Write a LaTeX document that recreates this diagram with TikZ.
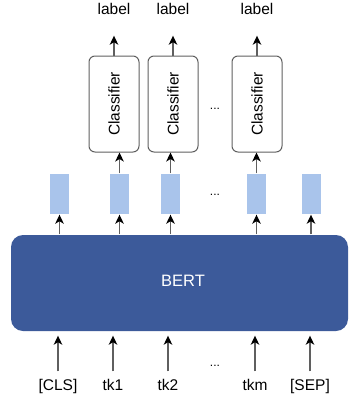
\documentclass[tikz,border=0pt]{standalone}
\usepackage{fontspec}
\setmainfont{Liberation Sans}
\usepackage{graphicx}
\usetikzlibrary{arrows.meta,positioning}
\definecolor{ln}{RGB}{95,95,95}
\definecolor{frm}{RGB}{95,95,95}
\definecolor{bert}{RGB}{60,90,154}
\definecolor{emb}{RGB}{169,196,235}
\tikzset{
  every picture/.style={line width=1.4pt,
    >={Stealth[length=9pt,width=8.5pt,inset=2.5pt,color=black]}},
  every node/.style={font=\fontsize{15.5}{18}\selectfont},
  % Verbindungen
  flow/.style={ln, ->},
  % Kästen
  embbox/.style={fill=emb, minimum width=19pt, minimum height=40pt, inner sep=0pt},
  clsbox/.style={draw=frm, line width=1pt, rounded corners=6pt,
    minimum width=50pt, minimum height=96pt, inner sep=0pt},
  bertbox/.style={fill=bert, rounded corners=12pt, minimum width=337pt,
    minimum height=96pt},
  % Beschriftung
  tok/.style={inner sep=0pt, anchor=base, text height=11pt, text depth=3pt},
  dots/.style={font=\fontsize{12}{14}\selectfont},
}
\begin{document}
\begin{tikzpicture}[x=1pt,y=-1pt]
  \useasboundingbox (0,0) rectangle (349,405);
  % BERT
  \node[bertbox] (bert) at (179.5,283) {};
  \node[text=white, font=\fontsize{16.5}{19}\selectfont] (bert-txt) at (183,281) {BERT};
  % Eingaben
  \foreach \n/\x/\lab in {cls/58/[CLS], t1/113/tk1, t2/168/tk2, tm/255/tkm, sep/310/[SEP]} {
    \node[tok] (in-\n) at (\x,390) {\lab};
    \draw[flow, shorten <=7pt, shorten >=4pt] (in-\n.north) -- (in-\n.north |- bert.south);
  }
  \node[dots] (d-in) at (215,366) {...};
  % Einbettungen
  \foreach \n/\x in {e0/59.5, e1/119.5, e2/170.5, em/256.5, es/311} {
    \node[embbox] (\n) at (\x,194) {};
    \draw[flow] (\n.south |- bert.north) -- (\n.south);
  }
  \node[dots] (d-emb) at (215,195) {...};
  % Klassifikatoren
  \foreach \n/\x/\e in {c1/114/e1, c2/173/e2, cm/257/em} {
    \node[clsbox] (\n) at (\x,104) {\rotatebox{90}{Classifier}};
    \draw[flow] (\e.north) -- (\e.north |- \n.south);
    \node[tok] (lab-\n) at (\x,14) {label};
    \draw[flow, shorten >=18pt] (\n.north) -- (lab-\n.south);
  }
  \node[dots] (d-cls) at (215,109) {...};
\end{tikzpicture}
\end{document}
